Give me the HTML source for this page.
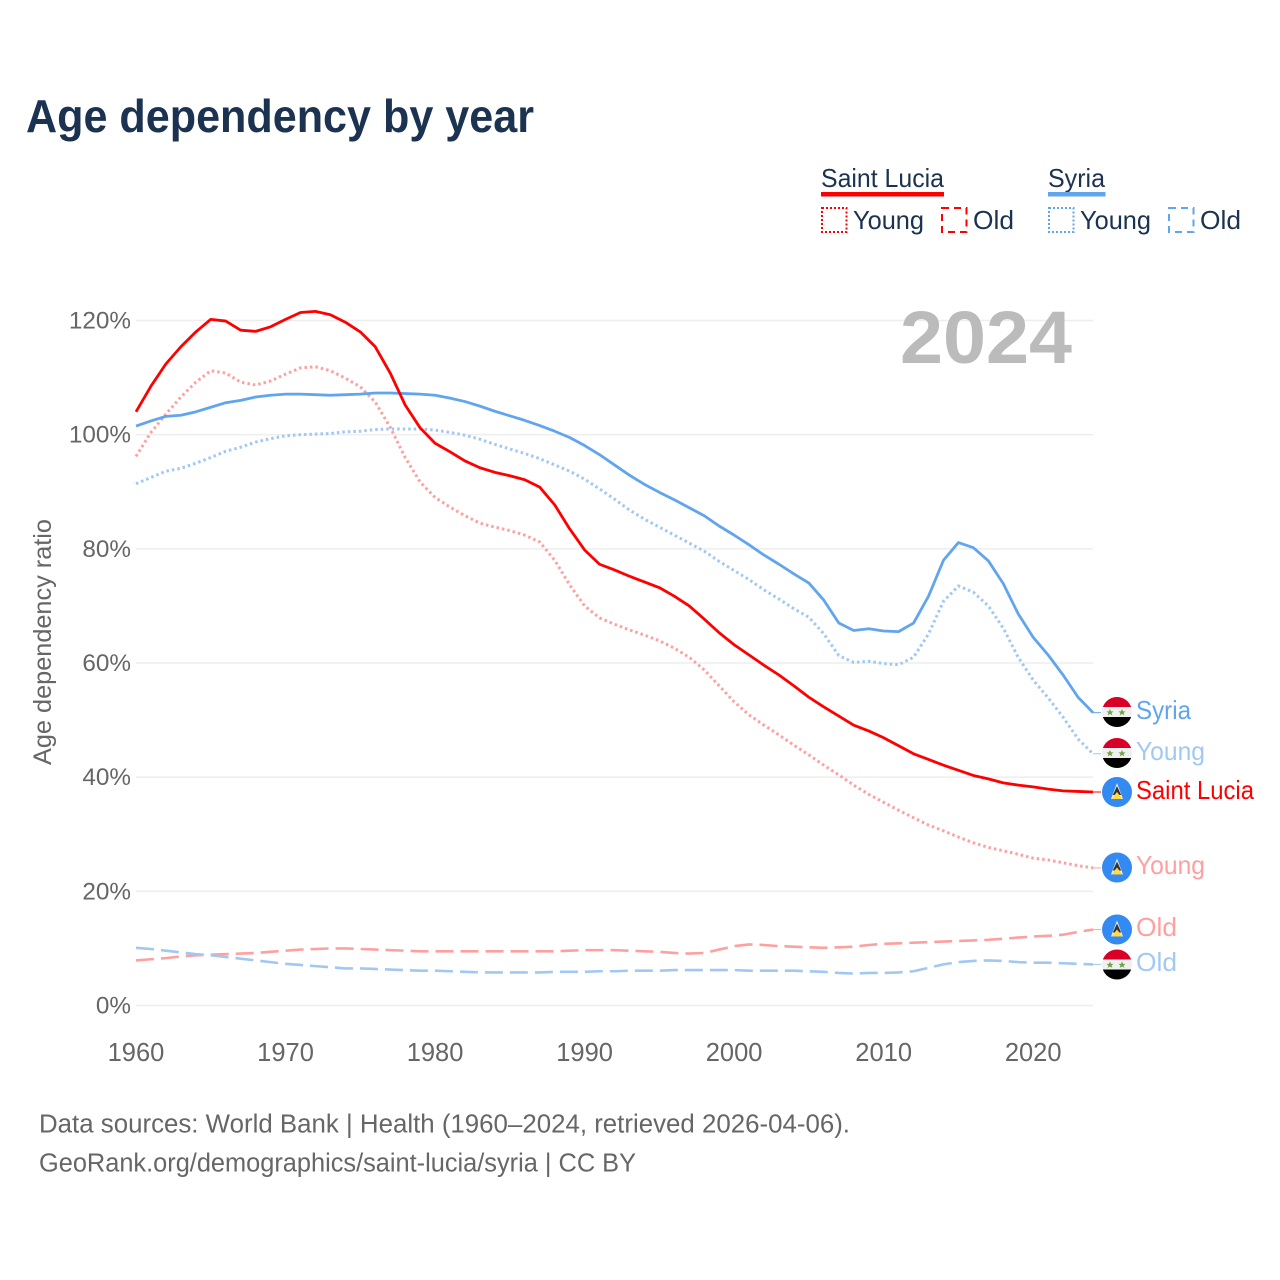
<!DOCTYPE html>
<html lang="en">
<head>
<meta charset="utf-8">
<title>Age dependency by year</title>
<style>
html,body{margin:0;padding:0;background:#fff;}
svg{display:block;font-family:"Liberation Sans",sans-serif;}
</style>
</head>
<body>
<svg id="chart" xmlns="http://www.w3.org/2000/svg" width="1280" height="1280" viewBox="0 0 1280 1280">
  <defs>
    <clipPath id="flag-clip"><circle cx="0" cy="0" r="15"/></clipPath>
    <g id="flag-syria" clip-path="url(#flag-clip)">
      <rect x="-15" y="-15" width="30" height="10" fill="#d80027"/>
      <rect x="-15" y="-5" width="30" height="10" fill="#f0f0f0"/>
      <rect x="-15" y="5" width="30" height="10" fill="#000"/>
      <polygon points="-7,-3 -5.9,-0.6 -3.4,-0.6 -5.4,1 -4.7,3.4 -7,2 -9.3,3.4 -8.6,1 -10.6,-0.6 -8.1,-0.6" fill="#6da544"/>
      <polygon points="5,-3 6.1,-0.6 8.6,-0.6 6.6,1 7.3,3.4 5,2 2.7,3.4 3.4,1 1.4,-0.6 3.9,-0.6" fill="#6da544"/>
    </g>
    <g id="flag-lucia" clip-path="url(#flag-clip)">
      <rect x="-15" y="-15" width="30" height="30" fill="#338af3"/>
      <polygon points="0,-9 6,7 -6,7" fill="#f0f0f0"/>
      <polygon points="0,-6 4.2,3 -4.2,3" fill="#333"/>
      <polygon points="0,0 5.5,7 -5.5,7" fill="#ffda44"/>
    </g>
  </defs>

  <text x="26" y="132" font-size="46" font-weight="700" fill="#1b3350" textLength="508" lengthAdjust="spacingAndGlyphs">Age dependency by year</text>

  <g font-size="26" fill="#1b3350">
    <text x="821" y="187" textLength="123" lengthAdjust="spacingAndGlyphs">Saint Lucia</text>
    <rect x="821" y="192" width="123" height="4.5" fill="#ff0000"/>
    <rect x="822" y="208" width="24.5" height="24" fill="none" stroke="#ff0000" stroke-width="2" stroke-dasharray="2 2"/>
    <text x="853" y="229" textLength="71" lengthAdjust="spacingAndGlyphs">Young</text>
    <rect x="942" y="208" width="24.5" height="24" fill="none" stroke="#ff0000" stroke-width="2" stroke-dasharray="7 5"/>
    <text x="973" y="229" textLength="41" lengthAdjust="spacingAndGlyphs">Old</text>
    <text x="1048" y="187" textLength="57" lengthAdjust="spacingAndGlyphs">Syria</text>
    <rect x="1048" y="192" width="57.5" height="4.5" fill="#60a5ee"/>
    <rect x="1049" y="208" width="24.5" height="24" fill="none" stroke="#60a5ee" stroke-width="2" stroke-dasharray="2 2"/>
    <text x="1080" y="229" textLength="71" lengthAdjust="spacingAndGlyphs">Young</text>
    <rect x="1169" y="208" width="24.5" height="24" fill="none" stroke="#60a5ee" stroke-width="2" stroke-dasharray="7 5"/>
    <text x="1200" y="229" textLength="41" lengthAdjust="spacingAndGlyphs">Old</text>
  </g>

  <g id="grid"></g>
  <g id="yticks"></g>
  <g id="xticks"></g>

  <text x="900" y="363" font-size="74" font-weight="700" fill="#bbbbbb" textLength="172" lengthAdjust="spacingAndGlyphs">2024</text>

  <text transform="translate(51 765) rotate(-90)" x="0" y="0" font-size="25" fill="#666666" textLength="246" lengthAdjust="spacingAndGlyphs">Age dependency ratio</text>

  <g id="series"></g>

  <g font-size="26">
    <use href="#flag-syria" x="1117" y="712"/>
    <text x="1136" y="719" fill="#60a5ee" textLength="55" lengthAdjust="spacingAndGlyphs">Syria</text>
    <use href="#flag-syria" x="1117" y="753"/>
    <text x="1136" y="760" fill="#a2c9f2" textLength="69" lengthAdjust="spacingAndGlyphs">Young</text>
    <use href="#flag-lucia" x="1117" y="792"/>
    <text x="1136" y="799" fill="#ff0000" textLength="118" lengthAdjust="spacingAndGlyphs">Saint Lucia</text>
    <use href="#flag-lucia" x="1117" y="867.5"/>
    <text x="1136" y="874" fill="#ffa0a0" textLength="69" lengthAdjust="spacingAndGlyphs">Young</text>
    <use href="#flag-lucia" x="1117" y="929.5"/>
    <text x="1136" y="936" fill="#ffa0a0" textLength="41" lengthAdjust="spacingAndGlyphs">Old</text>
    <use href="#flag-syria" x="1117" y="964.5"/>
    <text x="1136" y="971" fill="#a2c9f2" textLength="41" lengthAdjust="spacingAndGlyphs">Old</text>
  </g>

  <g font-size="25.5" fill="#666666">
    <text x="39" y="1132.5" textLength="811" lengthAdjust="spacingAndGlyphs">Data sources: World Bank | Health (1960–2024, retrieved 2026-04-06).</text>
    <text x="39" y="1171.5" textLength="597" lengthAdjust="spacingAndGlyphs">GeoRank.org/demographics/saint-lucia/syria | CC BY</text>
  </g>
</svg>

<script>
const startYear = 1960;
const endYear = 2024;
const yTickValues = [0, 20, 40, 60, 80, 100, 120];
const xTickValues = [1960, 1970, 1980, 1990, 2000, 2010, 2020];

const luciaTotal = [104,108.5,112.4,115.4,118,120.2,119.9,118.3,118.1,118.9,120.2,121.4,121.6,121,119.7,118,115.4,110.8,105.2,101.2,98.5,97,95.4,94.2,93.4,92.8,92.1,90.8,87.7,83.5,79.8,77.3,76.3,75.2,74.2,73.2,71.7,70,67.7,65.3,63.2,61.4,59.6,57.9,56,54,52.3,50.7,49.1,48.1,46.9,45.5,44.1,43.1,42.1,41.2,40.3,39.7,39,38.6,38.3,37.9,37.6,37.5,37.4];
const luciaYoung = [96.2,100.4,103.6,106.6,109.2,111.2,110.8,109.2,108.7,109.4,110.6,111.7,111.9,111.2,109.9,108.4,105.7,101.3,96,91.7,89,87.3,85.8,84.5,83.8,83.2,82.4,81.2,78,73.7,70,67.9,66.8,65.8,64.9,63.9,62.6,61,58.8,56,53.2,50.9,49.1,47.4,45.6,43.9,42.1,40.4,38.6,37,35.6,34.2,32.9,31.6,30.6,29.5,28.5,27.7,27.1,26.5,25.8,25.5,25,24.5,24.1];
const luciaOld = [7.9,8.1,8.3,8.6,8.8,8.9,9,9.1,9.2,9.4,9.6,9.8,9.9,10,10,9.9,9.8,9.7,9.6,9.5,9.5,9.5,9.5,9.5,9.5,9.5,9.5,9.5,9.5,9.6,9.7,9.7,9.7,9.6,9.5,9.4,9.2,9.1,9.2,9.8,10.4,10.7,10.6,10.4,10.3,10.2,10.1,10.2,10.3,10.6,10.8,10.9,11,11.1,11.2,11.3,11.4,11.5,11.7,11.9,12.1,12.2,12.4,12.9,13.3];
const syriaTotal = [101.5,102.4,103.2,103.4,104,104.8,105.6,106,106.6,106.9,107.1,107.1,107,106.9,107,107.1,107.3,107.3,107.2,107.1,106.9,106.4,105.8,105,104.1,103.3,102.5,101.6,100.6,99.5,98.1,96.5,94.7,92.9,91.3,89.9,88.6,87.2,85.8,84,82.4,80.7,78.9,77.3,75.6,74,71,67,65.7,66,65.6,65.5,67,71.7,78,81.1,80.2,77.9,73.9,68.6,64.5,61.4,57.9,54,51.3];
const syriaYoung = [91.4,92.5,93.6,94.1,95,96,97.1,97.8,98.7,99.3,99.8,100,100.1,100.2,100.5,100.6,100.9,101,101,101,100.8,100.4,99.9,99.2,98.3,97.5,96.7,95.8,94.7,93.6,92.2,90.5,88.7,86.8,85.2,83.8,82.4,81,79.6,77.8,76.2,74.6,72.8,71.2,69.5,68,65.1,61.3,60.1,60.3,59.9,59.7,61,65.1,70.8,73.5,72.4,70,66.1,61,57,53.9,50.5,46.7,44.1];
const syriaOld = [10.1,9.9,9.6,9.3,9,8.8,8.5,8.2,7.9,7.6,7.3,7.1,6.9,6.7,6.5,6.5,6.4,6.3,6.2,6.1,6.1,6,5.9,5.8,5.8,5.8,5.8,5.8,5.9,5.9,5.9,6,6,6.1,6.1,6.1,6.2,6.2,6.2,6.2,6.2,6.1,6.1,6.1,6.1,6,5.9,5.7,5.6,5.7,5.7,5.8,6,6.6,7.2,7.6,7.8,7.9,7.8,7.6,7.5,7.5,7.4,7.3,7.2];

const NS = 'http://www.w3.org/2000/svg';
function x(year) { return 136 + (year - startYear) * (1093 - 136) / (endYear - startYear); }
function y(value) { return 1005.5 - value * (1005.5 - 320.5) / 120; }

const grid = document.getElementById('grid');
const yticks = document.getElementById('yticks');
yTickValues.forEach(function (v) {
  const line = document.createElementNS(NS, 'line');
  
  
  line.setAttribute('x1', 136);
  line.setAttribute('x2', 1093);
  line.setAttribute('y1', y(v));
  line.setAttribute('y2', y(v));
  line.setAttribute('stroke', '#eeeeee');
  line.setAttribute('stroke-width', '1.5');
  grid.appendChild(line);
  const t = document.createElementNS(NS, 'text');
  
  
  t.setAttribute('x', 131);
  t.setAttribute('y', y(v) + 8);
  t.setAttribute('text-anchor', 'end');
  t.setAttribute('font-size', '24.3');
  t.setAttribute('fill', '#666666');
  t.textContent = v + '%';
  yticks.appendChild(t);
});

const xticks = document.getElementById('xticks');
xTickValues.forEach(function (yr) {
  const t = document.createElementNS(NS, 'text');
  
  
  t.setAttribute('x', x(yr));
  t.setAttribute('y', 1061);
  t.setAttribute('text-anchor', 'middle');
  t.setAttribute('font-size', '25.5');
  t.setAttribute('fill', '#666666');
  t.textContent = String(yr);
  xticks.appendChild(t);
});

const seriesGroup = document.getElementById('series');
function drawSeries(name, values, color, dash, width) {
  const points = values.map(function (v, i) { return x(startYear + i).toFixed(2) + ',' + y(v).toFixed(2); });
  const p = document.createElementNS(NS, 'polyline');
  
  
  p.setAttribute('points', points.join(' '));
  p.setAttribute('fill', 'none');
  p.setAttribute('stroke', color);
  p.setAttribute('stroke-width', width);
  p.setAttribute('stroke-linejoin', 'round');
  if (dash) { p.setAttribute('stroke-dasharray', dash); }
  seriesGroup.appendChild(p);
  const lead = document.createElementNS(NS, 'line');
  
  
  lead.setAttribute('x1', x(endYear));
  lead.setAttribute('x2', 1101);
  lead.setAttribute('y1', y(values[values.length - 1]));
  lead.setAttribute('y2', y(values[values.length - 1]));
  lead.setAttribute('stroke', color);
  lead.setAttribute('stroke-width', '1');
  seriesGroup.appendChild(lead);
}
drawSeries('series-saint-lucia-old', luciaOld, '#ffa0a0', '18 7', 2.6);
drawSeries('series-syria-old', syriaOld, '#a0c8f2', '18 7', 2.6);
drawSeries('series-saint-lucia-young', luciaYoung, '#ffa0a0', '2.5 3', 3);
drawSeries('series-syria-young', syriaYoung, '#a0c8f2', '2.5 3', 3);
drawSeries('series-syria-total', syriaTotal, '#60a5ee', null, 2.8);
drawSeries('series-saint-lucia-total', luciaTotal, '#ff0000', null, 2.8);
</script>
</body>
</html>
